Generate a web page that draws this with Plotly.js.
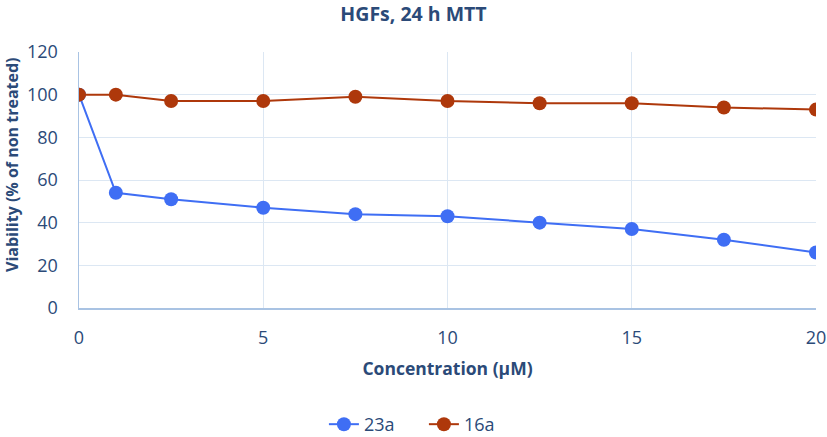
<!DOCTYPE html>
<html>
<head>
<meta charset="utf-8">
<script src="https://cdn.plot.ly/plotly-3.0.1.min.js"></script>
<style>html,body{margin:0;padding:0;background:#fff;}#chart{width:827px;height:437px;}</style>
</head>
<body>
<div id="chart"></div>
<script>
const concentration = [0, 1, 2.5, 5, 7.5, 10, 12.5, 15, 17.5, 20];
const series23a = [100, 54, 51, 47, 44, 43, 40, 37, 32, 26];
const series16a = [100, 100, 97, 97, 99, 97, 96, 96, 94, 93];
const seriesNames = ['23a', '16a'];
const xTicks = [0, 5, 10, 15, 20];
const yTicks = [0, 20, 40, 60, 80, 100, 120];

const textColor = '#2B4A78';
const fontFam = 'Open Sans, Lato, sans-serif';

const traces = [
  {x: concentration, y: series23a, name: seriesNames[0], type: 'scatter', mode: 'lines+markers',
   line: {color: '#3F6EF4', width: 2}, marker: {color: '#3F6EF4', size: 14}},
  {x: concentration, y: series16a, name: seriesNames[1], type: 'scatter', mode: 'lines+markers',
   line: {color: '#AE380B', width: 2}, marker: {color: '#AE380B', size: 14}}
];

const layout = {
  width: 827, height: 437,
  margin: {l: 79, r: 11, t: 52, b: 129, autoexpand: false},
  paper_bgcolor: '#fff', plot_bgcolor: '#fff',
  font: {family: fontFam, color: textColor, size: 18},
  title: {text: '<b>HGFs, 24 h MTT</b>', x: 0.5, xanchor: 'center', y: 0.968, yanchor: 'middle',
          font: {size: 19.5, color: textColor, family: fontFam}},
  xaxis: {
    range: [0, 20], tickvals: xTicks, ticktext: xTicks.map(String),
    showgrid: true, gridcolor: '#DCE7F3', gridwidth: 1,
    showline: true, linecolor: '#A9C3E3', linewidth: 1.5,
    zeroline: false, ticks: '', ticklen: 0, ticklabelstandoff: 13,
    tickfont: {size: 18, color: textColor},
    title: {text: '<b>Concentration (µM)</b>', font: {size: 17.5, color: textColor}, standoff: 14}
  },
  yaxis: {
    range: [0, 120], tickvals: yTicks, ticktext: yTicks.map(String),
    showgrid: true, gridcolor: '#DCE7F3', gridwidth: 1,
    showline: true, linecolor: '#A9C3E3', linewidth: 1.5,
    zeroline: false, ticks: '', ticklen: 0, ticklabelstandoff: 16,
    tickfont: {size: 18, color: textColor}
  },
  annotations: [{
    text: '<b>Viability (% of non treated)</b>', xref: 'paper', yref: 'paper',
    x: -0.0909, y: 0.5586, xanchor: 'center', yanchor: 'middle', textangle: -90,
    showarrow: false, font: {size: 16, color: textColor, family: fontFam}
  }],
  showlegend: true,
  legend: {orientation: 'h', x: 0.468, xanchor: 'center', y: -0.455, yanchor: 'middle',
           font: {size: 18, color: textColor}, entrywidth: 55, entrywidthmode: 'pixels', traceorder: 'normal'}
};

Plotly.newPlot('chart', traces, layout, {displayModeBar: false, staticPlot: true});
</script>
</body>
</html>
